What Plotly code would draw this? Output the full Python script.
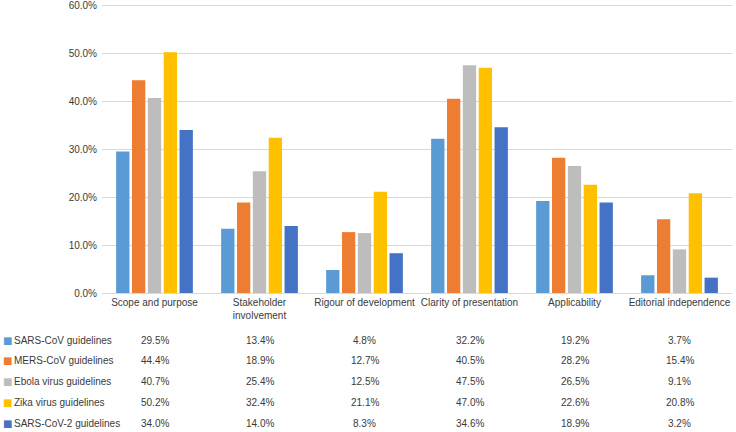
import plotly.graph_objects as go

categories = ["Scope and purpose", "Stakeholder involvement", "Rigour of development",
              "Clarity of presentation", "Applicability", "Editorial independence"]
tick_labels = ["Scope and purpose", "Stakeholder<br>involvement", "Rigour of development",
               "Clarity of presentation", "Applicability", "Editorial independence"]
series_names = ["SARS-CoV guidelines", "MERS-CoV guidelines", "Ebola virus guidelines",
                "Zika virus guidelines", "SARS-CoV-2 guidelines"]
sars = [29.5, 13.4, 4.8, 32.2, 19.2, 3.7]
mers = [44.4, 18.9, 12.7, 40.5, 28.2, 15.4]
ebola = [40.7, 25.4, 12.5, 47.5, 26.5, 9.1]
zika = [50.2, 32.4, 21.1, 47.0, 22.6, 20.8]
sars2 = [34.0, 14.0, 8.3, 34.6, 18.9, 3.2]
all_values = [sars, mers, ebola, zika, sars2]
y_ticks = [0, 10, 20, 30, 40, 50, 60]
colors = ["#5B9BD5", "#ED7D31", "#BDBDBD", "#FFC000", "#4472C4"]

W, H = 736, 432
ML, MR, MT, MB = 102, 4, 3, 139
PH = H - MT - MB
PW = W - ML - MR
FONT = "Liberation Sans, Arial, sans-serif"
TXT = "#3A3A3A"
FS = 10

fig = go.Figure()
for name, vals, col in zip(series_names, all_values, colors):
    fig.add_trace(go.Bar(x=categories, y=vals, name=name,
                         marker=dict(color=col, line=dict(width=0)), showlegend=False))

def py(p):
    return (H - MB - p) / PH

def px(p):
    return (p - ML) / PW

row_y = [340, 360.8, 381.6, 402.4, 423.2]
ann = []
for i, (name, vals, col) in enumerate(zip(series_names, all_values, colors)):
    y = py(row_y[i])
    ann.append(dict(xref="paper", yref="paper", x=px(0.5), y=y, text="■", showarrow=False,
                    xanchor="left", yanchor="middle", font=dict(color=col, size=10, family="DejaVu Sans")))
    ann.append(dict(xref="paper", yref="paper", x=px(12), y=y, text=name, showarrow=False,
                    xanchor="left", yanchor="middle", font=dict(color=TXT, size=FS, family=FONT)))
    for c, v in zip(categories, vals):
        ann.append(dict(xref="x", yref="paper", x=c, y=y, text=f"{v:.1f}%", showarrow=False,
                        xanchor="center", yanchor="middle", font=dict(color=TXT, size=FS, family=FONT)))

fig.update_layout(
    width=W, height=H,
    margin=dict(l=ML, r=MR, t=MT, b=MB),
    paper_bgcolor="white", plot_bgcolor="white",
    barmode="group", bargap=0.245, bargroupgap=0.16,
    font=dict(family=FONT, size=FS, color=TXT),
    annotations=ann,
    xaxis=dict(tickvals=categories, ticktext=tick_labels, showline=True, linecolor="#D9D9D9",
               linewidth=1, ticks="", tickangle=0, automargin=False, showgrid=False,
               zeroline=False, tickfont=dict(size=FS, color=TXT, family=FONT)),
    yaxis=dict(range=[0, 60.5], tickvals=y_ticks, ticktext=[f"{t:.1f}%" for t in y_ticks],
               ticklabeloverflow="allow", showgrid=True, showline=False,
               gridcolor="#D9D9D9", gridwidth=1, zeroline=False, ticks="", automargin=False,
               tickfont=dict(size=FS, color=TXT, family=FONT), ticklabelstandoff=4),
)

fig.write_html("out.html", config={"displayModeBar": False},
               post_script="document.body.style.margin='0';document.body.style.padding='0';")
